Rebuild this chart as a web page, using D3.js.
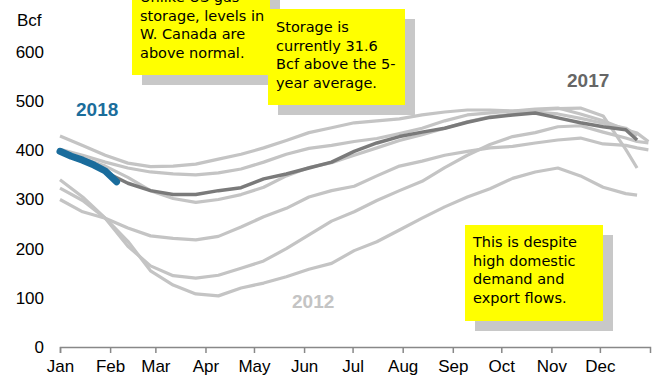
<!DOCTYPE html>
<html><head><meta charset="utf-8">
<script src="https://cdn.jsdelivr.net/npm/d3@7"></script>
<style>body{margin:0;background:#fff;overflow:hidden}</style>
</head><body><svg id="c" width="655" height="381"></svg>
<script>
// ---- data ----
const months = ["Jan","Feb","Mar","Apr","May","Jun","Jul","Aug","Sep","Oct","Nov","Dec"];
const monthStartDays = [0,31,59,90,120,151,181,212,243,273,304,334];
const yTicks = [0,100,200,300,400,500,600];
// week index of each point (bi-weekly, then last weeks)
const weeks = [0,2,4,6,8,10,12,14,16,18,20,22,24,26,28,30,32,34,36,38,40,42,44,46,48,50,51,52];
const hist1 = [429,410,390,374,367,368,372,382,392,405,420,436,446,456,460,464,472,478,482,482,480,482,485,486,470,402,364,null];
const hist2 = [402,390,376,364,356,352,350,354,362,376,392,404,410,418,424,434,445,460,472,476,480,484,486,474,460,442,435,418];
const hist3 = [396,384,368,345,318,302,294,300,310,325,348,365,375,390,405,420,432,445,458,468,474,478,474,465,455,445,430,null];
const hist4 = [300,275,262,242,226,221,218,225,244,265,282,305,318,327,348,368,378,390,398,405,408,415,421,425,413,410,405,401];
const hist5 = [323,298,262,205,165,145,140,146,160,175,200,228,256,275,298,318,337,365,390,412,428,436,448,450,437,425,418,415];
const hist6 = [340,305,262,215,155,126,108,104,120,130,143,158,170,196,214,238,262,285,305,322,343,356,364,348,325,312,309,null];
const y2017 = [398,380,356,333,318,310,310,318,324,342,352,364,376,398,415,428,437,445,457,467,472,476,466,456,448,442,421,null];
const weeks2018 = [0,1,2,3,4,5];
const y2018 = [398,388,380,370,358,336];

const svg = d3.select("#c");
const x = d3.scaleLinear().domain([0,365]).range([60,650]);
const y = d3.scaleLinear().domain([0,600]).range([347,52]);
const sans = "Liberation Sans, Arial, sans-serif";

// x axis
const xAxis = d3.axisBottom(x).tickValues(monthStartDays).tickSize(6)
  .tickFormat((d,i)=>months[i]);
const gx = svg.append("g").attr("transform","translate(0,347)").call(xAxis);
gx.select(".domain").attr("stroke","#888").attr("stroke-width",1.5);
gx.selectAll(".tick line").attr("stroke","#888").attr("stroke-width",1.5);
gx.selectAll(".tick text").attr("font-family",sans)
  .attr("font-size",17).attr("fill","#000").attr("y",13).attr("dy","0.71em");

// y axis
const yAxis = d3.axisLeft(y).tickValues(yTicks).tickSize(0).tickFormat(d3.format("d"));
const gy = svg.append("g").attr("transform","translate(44,0)").call(yAxis);
gy.select(".domain").remove();
gy.selectAll(".tick text").attr("font-family",sans)
  .attr("font-size",17).attr("fill","#000").attr("x",0);

svg.append("text").attr("x",17).attr("y",26).text("Bcf")
  .attr("font-family",sans).attr("font-size",17);

const line = d3.line().defined(d=>d[1]!=null).x(d=>x(d[0]*7)).y(d=>y(d[1]));
const hist = [hist1,hist2,hist3,hist4,hist5,hist6];
hist.forEach(s=>{
  svg.append("path").datum(weeks.map((w,i)=>[w,s[i]])).attr("d",line)
    .attr("fill","none").attr("stroke","#c4c4c4").attr("stroke-width",3.2)
    .attr("stroke-linejoin","round");
});
svg.append("path").datum(weeks.map((w,i)=>[w,y2017[i]])).attr("d",line)
  .attr("fill","none").attr("stroke","#7a7a7a").attr("stroke-width",3.5).attr("stroke-linejoin","round");
svg.append("path").datum(weeks2018.map((w,i)=>[w,y2018[i]])).attr("d",line)
  .attr("fill","none").attr("stroke","#1a6c9c").attr("stroke-width",7)
  .attr("stroke-linecap","round").attr("stroke-linejoin","round");

// series labels
const lab = (t,xx,yy,c)=>svg.append("text").attr("x",xx).attr("y",yy).text(t)
  .attr("font-family",sans).attr("font-weight","bold")
  .attr("font-size",19).attr("fill",c);
lab("2018",76,116,"#1b6d9b");
lab("2017",567,87,"#666666");
lab("2012",292,308,"#c4c4c4");

// callout boxes
const boxes = [
  {x:132,y:-20,w:138,h:95,lines:["Unlike US gas","storage, levels in","W. Canada are","above normal."],ty:-3},
  {x:268,y:9,w:137,h:96,lines:["Storage is","currently 31.6","Bcf above the 5-","year average."],ty:27},
  {x:465,y:225,w:138,h:96,lines:["This is despite","high domestic","demand and","export flows."],ty:242}
];
boxes.forEach(b=>{
  svg.append("rect").attr("x",b.x+10).attr("y",b.y+10).attr("width",b.w).attr("height",b.h).attr("fill","#c8c8c8");
});
boxes.forEach(b=>{
  svg.append("rect").attr("x",b.x).attr("y",b.y).attr("width",b.w).attr("height",b.h).attr("fill","#ffff00");
  const t = svg.append("text").attr("font-family","Comic Sans MS, DejaVu Sans, sans-serif")
    .attr("font-size",14.5).attr("fill","#000");
  b.lines.forEach((l,i)=>t.append("tspan").attr("x",b.x+8).attr("y",b.ty+i*18.7).attr("dy","0.35em").text(l));
});
</script>
</body></html>
